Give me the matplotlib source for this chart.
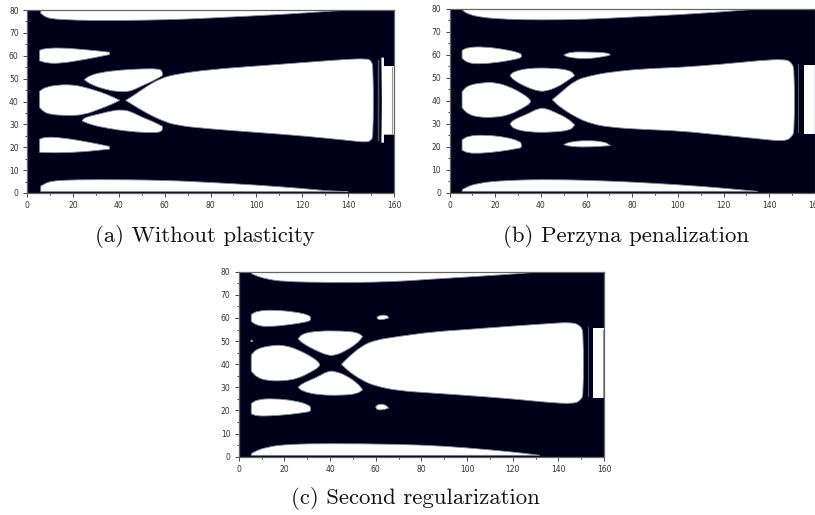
import matplotlib
matplotlib.use('Agg')
import matplotlib.pyplot as plt
from matplotlib.path import Path
from matplotlib.patches import PathPatch, Polygon

W, H = 815, 515
DARK = '#00001a'
EDGE = '#7f8c99'

# outlines of the void regions (x, y)
# a point written twice gives a sharp corner in the outline
a_top = [(6, 80), (6, 78.5), (6, 78.5), (8, 77), (10, 76.3), (15, 75.8), (30, 75.3), (50, 75.5), (70, 76), (90, 77), (110, 78), (130, 79.3), (140, 80), (140, 80)]
a_bottom = [(6, 0.6), (6, 3), (6, 3), (8, 4.2), (10, 5), (15, 5.6), (30, 5.9), (60, 5.6), (80, 4.6), (100, 3.5), (120, 2), (130, 1), (140, 0.6), (140, 0.6)]
a_holes = [
    [(5.5, 62), (5.5, 62.5), (8, 63.2), (15, 63.5), (25, 62.7), (35, 61.7), (36, 61.5), (36, 61.5), (36, 60.5), (36, 60.5), (25, 58.3), (15, 56.7), (9, 56.7), (5.5, 57.8), (5.5, 57.8)],
    [(5.5, 23.5), (5.5, 23.5), (8, 24.5), (15, 24.2), (25, 22.6), (35, 20.6), (36, 20.3), (36, 20.3), (36, 19.2), (36, 19.2), (25, 18), (15, 17.6), (9, 17.6), (5.5, 17.8), (5.5, 17.8)],
    [(5.5, 44.5), (5.5, 44.5), (8, 46.3), (14, 47.3), (20, 47.3), (25, 46.3), (32, 44.2), (37, 42.2), (40.5, 40.5), (40.5, 40.5), (37, 38.8), (32, 36.8), (25, 34.2), (18, 33.8), (10, 34.3), (7, 35.7), (5.5, 37.5), (5.5, 37.5)],
    [(25, 49.5), (25, 49.5), (27, 51.2), (32, 52.7), (40, 53.7), (50, 54.3), (57, 54.3), (59, 53.5), (59, 51.3), (59, 51.3), (55, 49), (50, 46.8), (47, 45.3), (44, 44.3), (40, 44.3), (35, 45), (28, 47.3)],
    [(24, 31.5), (24, 31.5), (28, 29.8), (35, 28.3), (45, 26.8), (55, 26.3), (59, 26.8), (59, 29.2), (59, 29.2), (55, 31.2), (50, 33.2), (45, 35.7), (42, 36.3), (38, 36.2), (30, 34.2), (25, 33)],
    [(43, 40.5), (43, 40.5), (47, 43), (52, 46.5), (58, 50), (65, 52), (80, 54), (100, 55.5), (120, 57), (140, 58.5), (148, 58.7), (150, 58), (151, 55), (151, 25), (150, 23), (148, 22.1), (140, 23), (120, 25), (100, 26.5), (80, 28), (65, 29.5), (58, 32), (52, 35), (47, 38)],
]
a_right = [(154.5, 59.2), (155.6, 59.2), (155.6, 55.5), (160, 55.5), (160, 25.5), (155.6, 25.5), (155.6, 22), (154.5, 22), (154.7, 40)]
a_slit = [(152.9, 58), (153.6, 58.5), (153.6, 22.5), (152.9, 23)]
a_line_x = [159.2, 159.2]
a_line_y = [26, 55]

b_top = [(5.5, 80), (5.5, 79.5), (8, 77.8), (14, 76.3), (25, 75.5), (40, 75.2), (60, 75.5), (80, 76.5), (100, 77.5), (120, 78.8), (135, 80), (135, 80)]
b_bottom = [(5.5, 0.6), (5.5, 1), (6, 1.8), (12, 4.2), (25, 5.4), (45, 5.8), (70, 5.1), (90, 4.1), (110, 2.8), (125, 1.5), (135, 0.6), (135, 0.6)]
b_holes = [
    [(5.5, 62), (5.5, 62), (8, 63.3), (15, 63.6), (25, 62.3), (31, 60.8), (31.5, 60), (31.5, 59), (30, 58.3), (22, 56.8), (13, 56), (8, 56.5), (5.5, 58.5), (5.5, 58.5)],
    [(5.5, 23), (5.5, 23), (8, 24.7), (15, 25.2), (25, 24.2), (31, 22.3), (31.5, 21), (31.5, 19.6), (30, 19.3), (22, 17.9), (13, 17.1), (8, 17.3), (5.5, 18.5), (5.5, 18.5)],
    [(5.5, 44), (5.5, 44), (8, 46.8), (15, 48), (20, 48), (26, 46.3), (32, 43.2), (35.5, 40.5), (35.5, 39), (32, 36.8), (26, 33.8), (20, 32.8), (13, 32.8), (8, 34.2), (5.5, 37), (5.5, 37)],
    [(26.5, 51), (26.5, 51), (28, 52.8), (35, 54.3), (45, 54.3), (53, 53.3), (54.8, 51), (54.8, 51), (52, 49), (47, 45.8), (42, 44.2), (39, 44.2), (34, 45.8), (28, 49)],
    [(26.5, 30), (26.5, 30), (28, 31.8), (34, 34.2), (39, 36.8), (42, 36.8), (47, 34.7), (52, 32.2), (54.8, 29.5), (54.8, 29.5), (53, 27.2), (45, 26.3), (35, 26.3), (28, 27.8)],
    [(45, 40.5), (45, 40.5), (48, 43), (55, 49), (62, 51), (70, 52.5), (85, 54), (100, 54.5), (120, 56), (135, 57.5), (147, 58.2), (150, 56.5), (151, 53), (151, 27), (150, 24.5), (147, 22.3), (135, 23.5), (120, 25), (100, 27), (85, 27.5), (70, 28.5), (62, 30), (55, 33), (48, 37.5)],
    [(50, 60), (50, 60), (53, 61.3), (60, 61.3), (69, 61), (70.5, 60), (70.5, 60), (68, 59.3), (60, 58.2), (52, 58.9)],
    [(50, 21), (50, 21), (53, 22.2), (60, 22.8), (68, 22.2), (70.5, 20.5), (70.5, 20.5), (60, 19.8), (52, 20.2)],
]
b_right = [(155, 55.5), (160, 55.5), (160, 25.5), (155, 25.5)]
b_slit = [(152.5, 56), (153, 56), (153, 26), (152.5, 26)]
b_line_x = [159.8, 159.8]
b_line_y = [26, 55]

c_top = [(5.5, 80), (5.5, 79.5), (6, 78.8), (12, 76.8), (20, 75.7), (40, 75.3), (65, 75.5), (85, 76.8), (105, 78), (125, 79.3), (132, 80), (132, 80)]
c_bottom = [(5.5, 0.6), (5.5, 1), (6, 1.8), (12, 4.2), (22, 5.4), (40, 5.7), (70, 5.4), (90, 4.6), (110, 3), (125, 1.5), (132, 0.6), (132, 0.6)]
c_holes = [
    [(5.5, 61.5), (5.5, 61.5), (8, 63), (15, 63.5), (25, 62.6), (31, 61.2), (31.5, 60), (31.5, 59), (30, 58.3), (22, 57), (13, 56.2), (8, 56.7), (5.5, 58.5), (5.5, 58.5)],
    [(5.5, 23), (5.5, 23), (8, 24.7), (15, 25.2), (25, 24.2), (31, 22.3), (31.5, 21), (31.5, 19.6), (30, 19.3), (22, 18.2), (13, 17.6), (8, 17.6), (5.5, 18.5), (5.5, 18.5)],
    [(5.5, 44), (5.5, 44), (8, 46.8), (15, 48.2), (20, 48.2), (26, 46.3), (32, 43.2), (35.5, 40.5), (35.5, 39), (32, 36.8), (26, 33.8), (20, 32.8), (13, 32.8), (8, 34.2), (5.5, 37), (5.5, 37)],
    [(26, 51), (26, 51), (28, 53.3), (35, 54.4), (45, 54.4), (52, 53.8), (54.3, 52), (54.3, 52), (52, 49), (46, 45.3), (42, 43.8), (39, 43.8), (34, 45.8), (28, 49)],
    [(26, 30), (26, 30), (28, 31.8), (34, 34.2), (39, 37), (42, 37), (47, 35.2), (52, 31.8), (54.3, 29), (54.3, 29), (52, 27.2), (45, 26.5), (35, 26.7), (28, 28.2)],
    [(45, 40), (45, 40), (48, 43), (54, 48), (60, 50.5), (70, 52), (85, 54), (100, 55), (120, 56.5), (135, 57.5), (146, 58.2), (150, 56.5), (151, 53), (151, 27), (150, 24.7), (147, 22.8), (135, 23.5), (120, 25), (100, 26.5), (85, 27.5), (70, 28.5), (60, 30.5), (54, 33), (48, 37)],
    [(60.5, 60.3), (60.5, 60.3), (62, 61.2), (65, 61.2), (65.7, 60), (65.7, 60), (63, 59.2), (61, 59.3)],
    [(60, 21.5), (60, 21.5), (61, 22.7), (64, 22.7), (65.7, 21), (65.7, 21), (63, 20.2), (60.5, 20.3)],
    [(5.3, 50.4), (6.1, 50.4), (6.1, 49.7), (5.3, 49.7)],
]
c_right = [(155, 55.5), (160, 55.5), (160, 25.5), (155, 25.5)]
c_slit = [(152.8, 56), (153.3, 56), (153.3, 26), (152.8, 26)]
c_line_x = [159.7, 159.7]
c_line_y = [26, 55]

x_ticks = list(range(0, 161, 20))
y_ticks = list(range(0, 81, 10))
captions = ['(a) Without plasticity', '(b) Perzyna penalization', '(c) Second regularization']


def smooth_path(points, closed=True):
    # quadratic curve through the midpoints, the points act as control points
    n = len(points)
    if closed:
        mid = [((points[i][0] + points[(i + 1) % n][0]) / 2, (points[i][1] + points[(i + 1) % n][1]) / 2) for i in range(n)]
        verts = [mid[-1]]
        codes = [Path.MOVETO]
        for i in range(n):
            verts += [points[i], mid[i]]
            codes += [Path.CURVE3, Path.CURVE3]
    else:
        verts = [points[0]]
        codes = [Path.MOVETO]
        for i in range(1, n - 1):
            p, q = points[i], points[i + 1]
            verts += [p, ((p[0] + q[0]) / 2, (p[1] + q[1]) / 2)]
            codes += [Path.CURVE3, Path.CURVE3]
        verts.append(points[-1])
        codes.append(Path.LINETO)
    verts.append(verts[0])
    codes.append(Path.CLOSEPOLY)
    return Path(verts, codes)


def make_axes(fig, left, right, top, bottom):
    ax = fig.add_axes([left / W, 1 - bottom / H, (right - left) / W, (bottom - top) / H])
    ax.set_facecolor(DARK)
    ax.set_xlim(0, 160)
    ax.set_ylim(0, 80)
    ax.set_xticks(x_ticks)
    ax.set_yticks(y_ticks)
    ax.set_xticks(list(range(10, 160, 20)), minor=True)
    ax.set_yticks(list(range(5, 80, 10)), minor=True)
    ax.tick_params(which='major', length=3, width=0.7, labelsize=5.5, pad=3, color='#444444', labelcolor='#333333')
    ax.tick_params(which='minor', length=1.5, width=0.7, color='#444444')
    for s in ax.spines.values():
        s.set_linewidth(0.9)
        s.set_color('#666666')
    return ax


def draw_panel(ax, top, bottom, holes, right, slit, line_x, line_y, caption, cap_x, cap_y):
    ax.add_patch(PathPatch(smooth_path(top, closed=False), fc='white', ec=EDGE, lw=0.6))
    ax.add_patch(PathPatch(smooth_path(bottom, closed=False), fc='white', ec=EDGE, lw=0.6))
    for h in holes:
        ax.add_patch(PathPatch(smooth_path(h), fc='white', ec=EDGE, lw=0.6))
    ax.add_patch(Polygon(right, closed=True, fc='white', ec='none'))
    ax.add_patch(Polygon(slit, closed=True, fc='#4a5666', ec='none'))
    ax.plot(line_x, line_y, color='#999999', lw=0.8)
    ax.figure.text(cap_x / W, 1 - cap_y / H, caption, family='cmr10', fontsize=16.4,
                   ha='center', va='center', color='#111111')


fig = plt.figure(figsize=(W / 100, H / 100), dpi=100)

ax1 = make_axes(fig, 27, 394, 10, 193)
draw_panel(ax1, a_top, a_bottom, a_holes, a_right, a_slit, a_line_x, a_line_y, captions[0], 204.5, 236)

ax2 = make_axes(fig, 449.5, 815, 9, 192.7)
draw_panel(ax2, b_top, b_bottom, b_holes, b_right, b_slit, b_line_x, b_line_y, captions[1], 626, 236)

ax3 = make_axes(fig, 238.7, 604, 271.7, 456.7)
draw_panel(ax3, c_top, c_bottom, c_holes, c_right, c_slit, c_line_x, c_line_y, captions[2], 415, 499)

fig.savefig('out.png', dpi=100)
